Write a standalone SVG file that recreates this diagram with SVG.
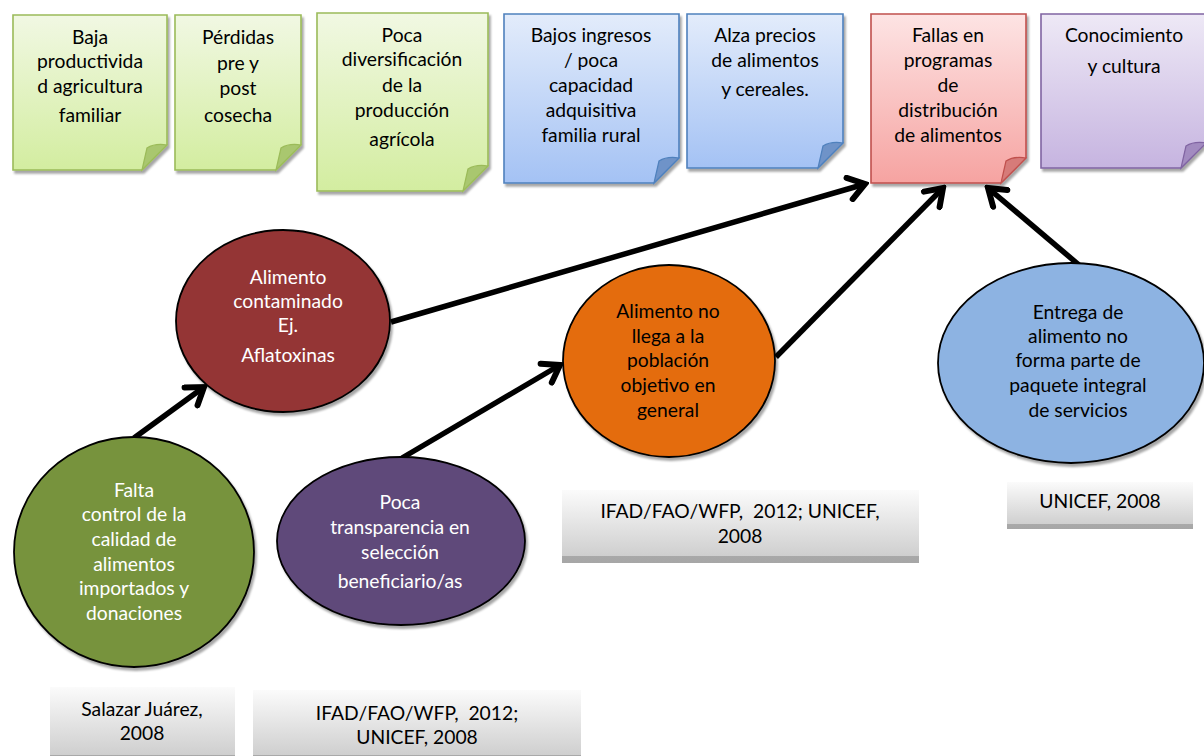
<svg xmlns="http://www.w3.org/2000/svg" width="1204" height="756" viewBox="0 0 1204 756">
<defs>
<linearGradient id="gGreen" x1="0" y1="0" x2="0" y2="1"><stop offset="0" stop-color="#F1F8E3"/><stop offset="1" stop-color="#D3EDA0"/></linearGradient>
<linearGradient id="gBlue" x1="0" y1="0" x2="0" y2="1"><stop offset="0" stop-color="#E3ECFB"/><stop offset="1" stop-color="#A4C2F4"/></linearGradient>
<linearGradient id="gRed" x1="0" y1="0" x2="0" y2="1"><stop offset="0" stop-color="#FDE4E4"/><stop offset="1" stop-color="#F6A3A1"/></linearGradient>
<linearGradient id="gPurple" x1="0" y1="0" x2="0" y2="1"><stop offset="0" stop-color="#EEE9F6"/><stop offset="1" stop-color="#C6B4E0"/></linearGradient>
<linearGradient id="gGray" x1="0" y1="0" x2="0" y2="1"><stop offset="0" stop-color="#FBFBFB"/><stop offset="0.9" stop-color="#CFCFCF"/><stop offset="0.9" stop-color="#A9A9A9"/><stop offset="1" stop-color="#A6A6A6"/></linearGradient>
<filter id="sh" x="-10%" y="-10%" width="125%" height="125%"><feDropShadow dx="2" dy="3" stdDeviation="1.2" flood-color="#000" flood-opacity="0.35"/></filter>
<marker id="arr" viewBox="-22 -14 26 28" refX="0" refY="0" markerWidth="26" markerHeight="28" markerUnits="userSpaceOnUse" orient="auto">
<path d="M-16,-11 L0,0 L-16,11" fill="none" stroke="#000" stroke-width="6" stroke-linecap="round" stroke-linejoin="miter"/>
</marker>
<style>
text{font-family:Lato,"Open Sans","Liberation Sans",sans-serif;font-size:19.3px;text-anchor:middle;fill:#000;white-space:pre}
.w{fill:#fff}
.note{stroke-width:1.6;filter:url(#sh)}
.ng{fill:url(#gGreen);stroke:#9BBB59}
.nb{fill:url(#gBlue);stroke:#4F81BD}
.nr{fill:url(#gRed);stroke:#C0504D}
.np{fill:url(#gPurple);stroke:#8064A2}
.fg{fill:#A9C76F;stroke:#9BBB59;stroke-width:1.2}
.fb{fill:#6F93C8;stroke:#4F81BD;stroke-width:1.2}
.fr{fill:#D67B79;stroke:#C0504D;stroke-width:1.2}
.fp{fill:#A28BC0;stroke:#8064A2;stroke-width:1.2}
.ell{stroke:#000;stroke-width:1.8;filter:url(#sh)}
.ref{fill:url(#gGray)}
.con{stroke:#000;stroke-width:5.5;fill:none;marker-end:url(#arr)}
</style>
</defs>
<rect width="1204" height="756" fill="#fff"/>

<g id="n1">
<path class="note ng" d="M13,15 H167 V145 L142,170 H13 Z"/>
<path class="fg" d="M142,170 L147,148 Q155,143 167,145 Z"/>
<text x="90" y="44">Baja</text><text x="90" y="68">productivida</text><text x="90" y="93">d agricultura</text><text x="90" y="122">familiar</text>
</g>
<g id="n2">
<path class="note ng" d="M175,15 H301 V145 L276,170 H175 Z"/>
<path class="fg" d="M276,170 L281,148 Q289,143 301,145 Z"/>
<text x="238" y="44">Pérdidas</text><text x="238" y="70">pre y</text><text x="238" y="95">post</text><text x="238" y="122">cosecha</text>
</g>
<g id="n3">
<path class="note ng" d="M317,13 H488 V166 L463,191 H317 Z"/>
<path class="fg" d="M463,191 L468,169 Q476,164 488,166 Z"/>
<text x="402" y="42">Poca</text><text x="402" y="66">diversificación</text><text x="402" y="92">de la</text><text x="402" y="117">producción</text><text x="402" y="146">agrícola</text>
</g>
<g id="n4">
<path class="note nb" d="M504,14 H679 V158 L654,183 H504 Z"/>
<path class="fb" d="M654,183 L659,161 Q667,156 679,158 Z"/>
<text x="591" y="42">Bajos ingresos</text><text x="591" y="67">/ poca</text><text x="591" y="92">capacidad</text><text x="591" y="117">adquisitiva</text><text x="591" y="142">familia rural</text>
</g>
<g id="n5">
<path class="note nb" d="M687,14 H843 V143 L818,168 H687 Z"/>
<path class="fb" d="M818,168 L823,146 Q831,141 843,143 Z"/>
<text x="765" y="42">Alza precios</text><text x="765" y="67">de alimentos</text><text x="765" y="96">y cereales.</text>
</g>
<g id="n6">
<path class="note nr" d="M871,14 H1026 V158 L1001,183 H871 Z"/>
<path class="fr" d="M1001,183 L1006,161 Q1014,156 1026,158 Z"/>
<text x="948" y="42">Fallas en</text><text x="948" y="67">programas</text><text x="948" y="92">de</text><text x="948" y="117">distribución</text><text x="948" y="142">de alimentos</text>
</g>
<g id="n7">
<path class="note np" d="M1041,14 H1206 V143 L1181,168 H1041 Z"/>
<path class="fp" d="M1181,168 L1186,146 Q1194,141 1206,143 Z"/>
<text x="1124" y="42">Conocimiento</text><text x="1124" y="73">y cultura</text>
</g>

<g id="connectors">
<path class="con" d="M134,438 L204,387"/>
<path class="con" d="M391,322 L865,184"/>
<path class="con" d="M402,458 L560,365"/>
<path class="con" d="M776,357 L943,188"/>
<path class="con" d="M1079,265 L988,188"/>
</g>

<g id="e1">
<ellipse class="ell" cx="283" cy="321" rx="107" ry="91" fill="#943634"/>
<text class="w" x="288" y="284">Alimento</text><text class="w" x="288" y="308">contaminado</text><text class="w" x="288" y="332">Ej.</text><text class="w" x="288" y="362">Aflatoxinas</text>
</g>
<g id="e2">
<ellipse class="ell" cx="134" cy="552" rx="120" ry="115" fill="#77933C"/>
<text class="w" x="134" y="497">Falta</text><text class="w" x="134" y="521">control de la</text><text class="w" x="134" y="546">calidad de</text><text class="w" x="134" y="571">alimentos</text><text class="w" x="134" y="595">importados y</text><text class="w" x="134" y="620">donaciones</text>
</g>
<g id="e3">
<ellipse class="ell" cx="401" cy="541" rx="124" ry="84" fill="#5F497A"/>
<text class="w" x="400" y="509">Poca</text><text class="w" x="400" y="534">transparencia en</text><text class="w" x="400" y="559">selección</text><text class="w" x="400" y="588">beneficiario/as</text>
</g>
<g id="e4">
<ellipse class="ell" cx="669" cy="361" rx="106" ry="96" fill="#E46C0A"/>
<text x="668" y="318">Alimento no</text><text x="668" y="343">llega a la</text><text x="668" y="367">población</text><text x="668" y="392">objetivo en</text><text x="668" y="417">general</text>
</g>
<g id="e5">
<ellipse class="ell" cx="1071" cy="363" rx="133" ry="100" fill="#8DB3E2"/>
<text x="1078" y="319">Entrega de</text><text x="1078" y="343">alimento no</text><text x="1078" y="367">forma parte de</text><text x="1078" y="392">paquete integral</text><text x="1078" y="417">de servicios</text>
</g>

<g id="r1">
<rect class="ref" x="50" y="687" width="185" height="75"/>
<text x="142" y="716">Salazar Juárez,</text><text x="142" y="740">2008</text>
</g>
<g id="r2">
<rect class="ref" x="253" y="690" width="328" height="72"/>
<text x="417" y="720">IFAD/FAO/WFP,  2012;</text><text x="417" y="744">UNICEF, 2008</text>
</g>
<g id="r3">
<rect class="ref" x="562" y="490" width="357" height="73"/>
<text x="740" y="518">IFAD/FAO/WFP,  2012; UNICEF,</text><text x="740" y="543">2008</text>
</g>
<g id="r4">
<rect class="ref" x="1007" y="482" width="186" height="47"/>
<text x="1100" y="508">UNICEF, 2008</text>
</g>
</svg>
